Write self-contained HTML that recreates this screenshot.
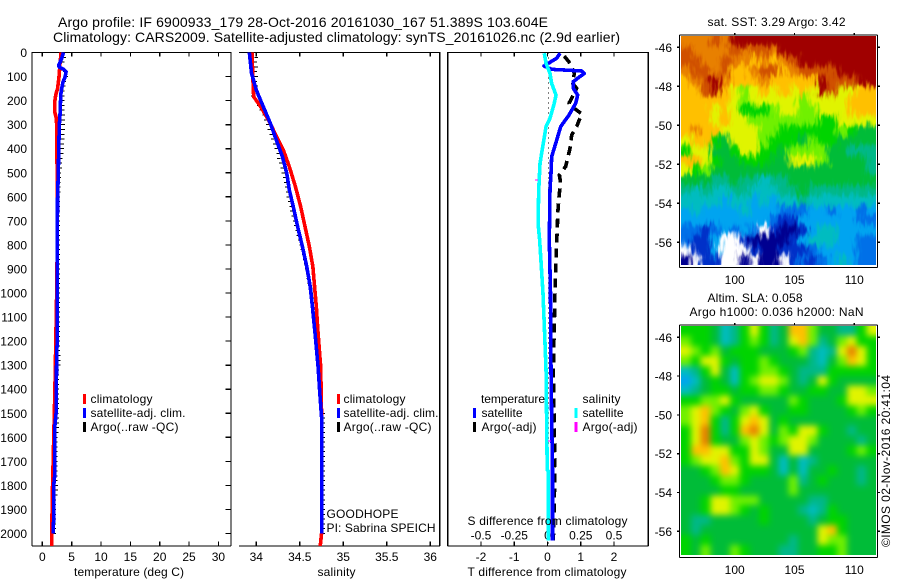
<!DOCTYPE html>
<html>
<head>
<meta charset="utf-8">
<title>Argo profile</title>
<style>
html,body{margin:0;padding:0;background:#fff;}
svg{display:block;font-family:"Liberation Sans",sans-serif;font-size:12px;fill:#000;}
text{fill:#000;}
.t14{font-size:14px;}
</style>
</head>
<body>
<svg id="chart" width="900" height="580" viewBox="0 0 900 580" xmlns="http://www.w3.org/2000/svg">
<defs>
<filter id="soft2" x="-5%" y="-5%" width="110%" height="110%" color-interpolation-filters="sRGB"><feGaussianBlur stdDeviation="3.2"/></filter>
<filter id="soft1" x="-5%" y="-5%" width="110%" height="110%" color-interpolation-filters="sRGB">
<feGaussianBlur stdDeviation="2" result="b"/>
<feTurbulence type="fractalNoise" baseFrequency="0.3 0.07" numOctaves="2" seed="3" result="n"/>
<feDisplacementMap in="b" in2="n" scale="14" xChannelSelector="R" yChannelSelector="G"/>
</filter>
<clipPath id="clip-sst"><rect x="681" y="36" width="195" height="229"/></clipPath>
<clipPath id="clip-sla"><rect x="681" y="326" width="195" height="229"/></clipPath>
</defs>
<rect width="900" height="580" fill="#fff"/>

<text class="t14" x="58" y="27" textLength="490" lengthAdjust="spacing">Argo profile: IF 6900933_179 28-Oct-2016 20161030_167 51.389S 103.604E</text>
<text class="t14" x="53" y="42" textLength="567" lengthAdjust="spacing">Climatology: CARS2009. Satellite-adjusted climatology: synTS_20161026.nc (2.9d earlier)</text>

<g id="temp-panel"></g>
<g id="sal-panel"></g>
<g id="diff-panel"></g>
<g id="sst-map"></g>
<g id="sla-map"></g>

<text x="74" y="576" textLength="110" lengthAdjust="spacing">temperature (deg C)</text>
<text x="317.5" y="576" textLength="38" lengthAdjust="spacing">salinity</text>
<text x="467.5" y="576" textLength="159" lengthAdjust="spacing">T difference from climatology</text>
<text x="467.5" y="525" textLength="160" lengthAdjust="spacing">S difference from climatology</text>

<g>
<rect x="83" y="394" width="3" height="10" fill="#f00"/>
<text x="90.5" y="403" textLength="62" lengthAdjust="spacing">climatology</text>
<rect x="83" y="408" width="3" height="10" fill="#00f"/>
<text x="90.5" y="417" textLength="95" lengthAdjust="spacing">satellite-adj. clim.</text>
<rect x="83" y="422" width="3" height="10" fill="#000"/>
<text x="90.5" y="431" textLength="88" lengthAdjust="spacing">Argo(..raw -QC)</text>
</g>
<g>
<rect x="337" y="394" width="3" height="10" fill="#f00"/>
<text x="343.5" y="403" textLength="62" lengthAdjust="spacing">climatology</text>
<rect x="337" y="408" width="3" height="10" fill="#00f"/>
<text x="343.5" y="417" textLength="95" lengthAdjust="spacing">satellite-adj. clim.</text>
<rect x="337" y="422" width="3" height="10" fill="#000"/>
<text x="343.5" y="431" textLength="88" lengthAdjust="spacing">Argo(..raw -QC)</text>
</g>
<text x="326.5" y="518" textLength="72" lengthAdjust="spacing">GOODHOPE</text>
<text x="326.5" y="532" textLength="109" lengthAdjust="spacing">PI: Sabrina SPEICH</text>

<g>
<text x="481" y="403" textLength="64" lengthAdjust="spacing">temperature</text>
<rect x="473" y="408" width="3" height="10" fill="#00f"/>
<text x="481.5" y="417" textLength="41" lengthAdjust="spacing">satellite</text>
<rect x="473" y="422" width="3" height="10" fill="#000"/>
<text x="481.5" y="431" textLength="55" lengthAdjust="spacing">Argo(-adj)</text>
<text x="582.5" y="403" textLength="38" lengthAdjust="spacing">salinity</text>
<rect x="574.5" y="408" width="3" height="10" fill="#0ff"/>
<text x="582.5" y="417" textLength="41" lengthAdjust="spacing">satellite</text>
<rect x="574.5" y="422" width="3" height="10" fill="#f0f"/>
<text x="582.5" y="431" textLength="55" lengthAdjust="spacing">Argo(-adj)</text>
</g>

<text x="707.5" y="26" textLength="138" lengthAdjust="spacing">sat. SST: 3.29 Argo: 3.42</text>
<text x="707.5" y="302" textLength="95" lengthAdjust="spacing">Altim. SLA: 0.058</text>
<text x="689.5" y="316" textLength="174" lengthAdjust="spacing">Argo h1000: 0.036 h2000: NaN</text>
<text transform="translate(890,547) rotate(-90)" x="0" y="0" textLength="172" lengthAdjust="spacing">©IMOS 02-Nov-2016 20:41:04</text>

<script>
// ---- tick labels ----
var depthTicks = [0,100,200,300,400,500,600,700,800,900,1000,1100,1200,1300,1400,1500,1600,1700,1800,1900,2000];
var tempTicks = [0,5,10,15,20,25,30];
var salTicks = ['34','34.5','35','35.5','36'];
var tDiffTicks = ['-2','-1','0','1','2'];
var sDiffTicks = ['-0.5','-0.25','0','0.25','0.5'];
var lonTicks = [100,105,110];
var latTicks = [-46,-48,-50,-52,-54,-56];

// ---- temperature profiles ----
var climTempDepth = [0,50,100,150,175,200,250,270,300,400,500,600,800,1000,1200,1400,1600,1800,2000,2052];
var climTemp = [3.2,3.0,2.85,2.6,2.3,2.15,2.15,2.35,2.45,2.45,2.55,2.55,2.55,2.45,2.3,2.15,1.95,1.75,1.6,1.6];
var satTempDepth = [0,25,50,60,70,80,100,125,150,175,270,300,400,500,600,800,1000,1200,1250,1500,1550,1750,1800,1950,1960,2000];
var satTemp = [3.6,3.3,2.85,2.85,3.6,4.05,3.9,3.5,3.3,3.15,3.0,2.9,2.8,2.73,2.6,2.55,2.55,2.55,2.45,2.35,2.15,2.15,1.95,1.95,1.85,1.85];

// ---- salinity profiles ----
var climSalDepth = [0,156,184,225,281,336,405,475,558,641,724,807,890,974,1057,1167,1306,1500,2000,2052];
var climSal = [33.95,33.966,33.97,34.05,34.14,34.215,34.31,34.38,34.45,34.51,34.56,34.61,34.65,34.67,34.69,34.71,34.74,34.75,34.75,34.735];
var satSalDepth = [0,86,156,225,293,364,433,502,572,641,724,807,890,974,1057,1167,1306,1417,1515,2000];
var satSal = [33.92,33.945,34.0,34.08,34.16,34.23,34.30,34.35,34.38,34.425,34.475,34.53,34.58,34.62,34.645,34.675,34.71,34.73,34.75,34.75];

// ---- Argo levels ----
var argoDepth = [0,20,40,60,80,100,120,140,160,180,200,220,240,260,280,300,320,340,360,380,400,420,440,460,480,500,520,540,560,580,600,620,640,660,680,700,720,740,760,780,800,820,840,860,880,900,920,940,960,980,1000,1020,1040,1060,1080,1100,1120,1140,1160,1180,1200,1220,1240,1260,1280,1300,1320,1340,1360,1380,1400,1420,1440,1460,1480,1500,1520,1540,1560,1580,1600,1620,1640,1660,1680,1700,1720,1740,1760,1780,1800,1820,1840,1860,1880,1900,1920,1940,1960,1980,2000];
var argoTemp = [3.8,3.7,3.4,3.1,3.9,4.0,3.7,3.6,3.4,3.4,3.4,3.4,3.4,3.5,3.5,3.45,3.45,3.4,3.4,3.3,3.3,3.2,3.1,3.0,3.0,2.8,2.8,2.75,2.75,2.7,2.6,2.6,2.6,2.6,2.6,2.6,2.6,2.6,2.6,2.6,2.6,2.6,2.6,2.6,2.6,2.6,2.6,2.6,2.6,2.6,2.6,2.6,2.6,2.6,2.6,2.6,2.6,2.6,2.6,2.6,2.6,2.6,2.6,2.75,2.75,2.75,2.5,2.5,2.5,2.5,2.45,2.45,2.45,2.45,2.45,2.4,2.45,2.5,2.45,2.4,2.2,2.2,2.2,2.2,2.2,2.2,2.2,2.2,2.2,2.2,2.3,2.3,2.25,2.0,2.0,2.0,2.0,2.0,1.95,1.95,1.95];
var argoSal = [34.0,34.0,33.99,34.0,33.99,34.0,33.99,34.0,33.97,33.96,34.0,34.03,34.06,34.09,34.11,34.13,34.15,34.17,34.19,34.21,34.23,34.25,34.26,34.28,34.30,34.31,34.33,34.34,34.35,34.36,34.37,34.385,34.40,34.41,34.425,34.44,34.455,34.47,34.485,34.50,34.52,34.53,34.545,34.56,34.57,34.58,34.59,34.60,34.61,34.625,34.63,34.64,34.645,34.65,34.655,34.66,34.665,34.67,34.675,34.68,34.685,34.69,34.695,34.70,34.705,34.71,34.715,34.72,34.72,34.725,34.73,34.73,34.735,34.74,34.74,34.77,34.77,34.77,34.77,34.77,34.77,34.77,34.77,34.77,34.77,34.77,34.77,34.77,34.77,34.77,34.77,34.77,34.77,34.77,34.77,34.77,34.77,34.77,34.77,34.77,34.77];

// ---- difference profiles ----
var satDiffTDepth = [3,24,45,56,70,73,77,87,100,121,149,177,211,260,308,364,433,502,572,780,1000,1320,1528,1736,2030];
var satDiffT = [0.376,0.276,0.025,-0.105,0.126,0.526,1.03,1.107,0.977,0.777,0.777,0.908,0.848,0.647,0.397,0.277,0.126,0.105,0.075,0.054,0.09,0.105,0.126,0.15,0.15];
var satDiffSDepth = [3,45,87,128,177,211,273,308,392,460,572,710,780,1000,1150,1320,1736,1740,2030];
var satDiffS = [-0.024,-0.011,0.019,0.031,0.064,0.051,0.019,-0.011,-0.036,-0.056,-0.066,-0.071,-0.059,-0.034,-0.023,-0.011,-0.002,0.006,0.006];
var argoDiffTDepth = [15,45,87,128,149,211,225,255,273,308,343,398,474,509,544,586,669,738,780,1000,1320,1500,1736,2030];
var argoDiffT = [0.505,0.677,0.806,0.757,0.878,0.647,0.727,1.03,0.977,0.878,0.727,0.677,0.547,0.355,0.397,0.355,0.307,0.295,0.277,0.225,0.175,0.195,0.225,0.175];
var argoDiffSDepth = [530,1615];
var argoDiffS = [-0.082,0.014];

// ---- map colour levels (index into mapPalette, -1 = no data) ----
var mapPalette = ['#000090','#0030c8','#0070e8','#00a4f0','#00bcc0','#00b888','#00bc38','#00d400','#70f000','#e0f400','#ffc000','#e88000','#d05000','#a00000'];
var sstRows = [
[11,11,11,12,11,13,13,13,13,13,13,13,13,13,13,13,13,13,13,13],
[12,11,11,11,11,12,11,12,12,11,13,13,13,13,13,13,13,13,13,13],
[12,12,11,11,12,11,11,10,11,10,11,12,13,13,13,13,13,13,13,13],
[11,12,12,11,12,10,10,11,12,12,10,11,12,12,12,12,13,13,13,13],
[10,11,12,13,11,10,10,10,11,10,10,10,10,10,13,12,12,12,13,13],
[10,10,12,13,10,9,8,9,10,9,10,9,10,9,13,12,9,9,10,10],
[10,10,10,10,10,9,8,9,9,9,9,9,8,9,9,9,9,10,10,10],
[10,10,10,9,10,9,7,7,7,8,9,9,8,8,9,9,9,10,10,10],
[10,10,10,9,10,9,9,8,8,8,8,8,8,8,7,7,9,9,9,9],
[10,11,10,10,9,9,9,9,8,8,7,7,7,7,7,7,8,7,6,6],
[9,10,10,7,6,9,9,9,8,7,7,7,6,8,7,7,6,6,6,6],
[7,9,9,6,6,7,9,9,7,7,6,8,8,8,8,6,6,5,5,5],
[10,10,9,7,6,6,7,7,7,6,6,9,9,9,8,6,6,6,6,5],
[9,7,8,6,6,6,6,6,6,6,6,6,6,6,6,6,6,6,6,5],
[6,6,6,5,5,6,5,5,4,5,5,6,6,6,6,6,6,6,6,6],
[5,4,5,4,4,5,5,4,4,4,5,5,6,5,5,5,5,5,5,5],
[4,4,4,4,3,4,4,3,4,3,4,4,5,4,4,4,4,4,4,4],
[3,4,3,3,3,3,4,3,3,3,2,2,2,3,3,2,3,3,2,3],
[3,3,3,3,3,3,3,3,3,2,1,1,3,3,3,3,3,3,2,2],
[2,2,1,2,3,2,3,2,-1,1,0,0,1,3,4,4,3,3,3,3],
[2,1,1,3,-1,-1,1,0,0,0,0,1,3,4,4,4,3,3,2,2],
[-1,1,1,3,-1,-1,-1,1,0,0,1,1,1,2,3,3,3,3,2,2],
[0,-1,1,1,-1,-1,0,-1,0,0,-1,1,2,1,2,3,4,3,2,2]
];
var slaRows = [
[7,7,7,6,4,5,7,9,7,5,6,10,10,8,6,6,5,5,7,9],
[8,7,7,6,4,5,7,8,7,5,6,9,10,8,5,6,8,9,7,7],
[9,8,7,8,6,7,7,7,6,6,6,7,8,5,4,5,9,11,9,7],
[8,7,9,9,7,6,7,7,8,7,6,6,6,5,4,6,8,10,9,7],
[4,5,7,9,6,4,7,7,8,8,7,6,5,5,5,7,7,7,7,7],
[3,4,6,7,6,4,7,8,9,9,8,6,5,6,9,7,6,6,6,6],
[4,5,6,7,7,6,7,7,8,8,7,6,6,7,7,6,6,9,9,8],
[7,7,8,8,9,7,6,6,6,6,6,8,7,6,6,6,7,9,9,9],
[8,9,10,8,7,6,8,9,7,6,6,7,7,6,6,6,6,7,8,7],
[8,9,10,7,5,7,9,10,9,6,7,6,6,6,6,6,6,6,6,6],
[7,9,11,7,5,7,10,11,9,6,8,7,9,9,7,6,6,5,6,6],
[7,9,11,7,6,6,8,9,8,7,8,9,9,8,6,6,6,6,5,6],
[7,10,10,9,9,7,7,9,8,6,6,9,9,6,6,6,6,7,8,7],
[7,8,9,9,10,8,7,9,9,6,4,6,4,5,6,6,6,6,6,6],
[6,6,7,8,10,9,7,7,7,6,4,6,4,6,6,7,6,6,5,6],
[6,6,6,7,8,8,7,6,6,6,6,8,5,6,7,6,6,6,5,6],
[6,6,6,6,7,7,6,6,6,6,6,8,6,6,6,6,6,6,6,6],
[6,6,7,9,9,8,8,8,6,6,6,6,6,5,5,6,6,6,6,6],
[6,6,7,9,9,8,7,6,7,6,6,6,5,4,5,7,6,6,6,6],
[6,5,5,6,6,6,6,6,7,6,6,6,6,5,6,7,7,6,6,6],
[6,5,6,6,6,6,6,6,6,6,6,6,6,6,9,10,7,6,6,6],
[7,6,7,6,6,6,6,6,6,6,6,5,6,6,9,8,8,6,6,6],
[7,6,8,6,6,8,7,6,6,6,5,5,6,6,7,7,8,6,6,6]
];

// ---- axis functions ----
var SVGNS = 'http://www.w3.org/2000/svg';
function yDepth(d){ return 52.5 + d * 0.2405; }
function xTemp(t){ return 42.3 + t * 5.87; }
function xSal(s){ return 256.3 + (s - 34) * 87; }
function xDiffT(t){ return 547.5 + t * 33.25; }
function xDiffS(s){ return 547.5 + s * 133; }
function xLon(l){ return 734.7 + (l - 100) * 11.96; }
function ySstLat(l){ return 47.3 + (-46 - l) * 19.5; }
function ySlaLat(l){ return 337.3 + (-46 - l) * 19.4; }

function mk(parent, tag, attrs, txt){
  var el = document.createElementNS(SVGNS, tag);
  for (var k in attrs) el.setAttribute(k, attrs[k]);
  if (txt !== undefined) el.textContent = txt;
  parent.appendChild(el);
  return el;
}
function seg(parent, x1, y1, x2, y2, name){
  var el = mk(parent, 'line', {x1:x1, y1:y1, x2:x2, y2:y2, stroke:'#000', 'stroke-width':1.2, 'shape-rendering':'crispEdges'});
  
  
  return el;
}
function label(parent, x, y, s, anchor, name){
  var el = mk(parent, 'text', {x:x, y:y, 'text-anchor':anchor}, s);
  
  
  return el;
}
function profile(parent, xf, vals, depths, color, width, dash, name){
  var pts = [];
  for (var i = 0; i < vals.length; i++) pts.push(xf(vals[i]).toFixed(2) + ',' + yDepth(depths[i]).toFixed(2));
  var attrs = {points:pts.join(' '), fill:'none', stroke:color, 'stroke-width':width, 'stroke-linejoin':'round', 'shape-rendering':'crispEdges'};
  if (dash) attrs['stroke-dasharray'] = dash;
  var el = mk(parent, 'polyline', attrs);
  
  
  return el;
}
function argoDashes(parent, xf, vals, depths, half, color, name){
  for (var i = 0; i < vals.length; i++){
    var el = mk(parent, 'line', {x1:xf(vals[i]) - half, x2:xf(vals[i]) + half, y1:yDepth(depths[i]), y2:yDepth(depths[i]), stroke:color, 'stroke-width':1, 'shape-rendering':'crispEdges'});
    
    
  }
}

// ---- temperature panel ----
var tp = document.getElementById('temp-panel');
seg(tp, 32, 52.5, 231, 52.5, 'top-axis-line');
seg(tp, 32, 546, 231, 546, 'bottom-axis-line');
seg(tp, 32, 52, 32, 546, 'depth-axis-line');
seg(tp, 231, 52, 231, 546, 'right-axis-line');
depthTicks.forEach(function(d){
  seg(tp, 225.5, yDepth(d), 231, yDepth(d), 'depth-tick');
  label(tp, 27, yDepth(d) + 4.5, String(d), 'end', 'depth-tick-label');
});
tempTicks.forEach(function(t){
  seg(tp, xTemp(t), 52.5, xTemp(t), 56.5, 'temperature-top-tick');
  seg(tp, xTemp(t), 541.5, xTemp(t), 546, 'temperature-bottom-tick');
  label(tp, xTemp(t), 561, String(t), 'middle', 'temperature-tick-label');
});
argoDashes(tp, xTemp, argoTemp, argoDepth, 2.2, '#000', 'argo-temperature-level');
profile(tp, xTemp, climTemp, climTempDepth, '#f00', 3.6, null, 'climatology-temperature-line');
profile(tp, xTemp, satTemp, satTempDepth, '#00f', 3.6, null, 'satellite-temperature-line');

// ---- salinity panel ----
var sp = document.getElementById('sal-panel');
seg(sp, 239, 52.5, 440, 52.5, 'top-axis-line');
seg(sp, 239, 546, 440, 546, 'bottom-axis-line');
seg(sp, 439.7, 52, 439.7, 546, 'right-axis-line');
salTicks.forEach(function(s){
  var v = parseFloat(s);
  seg(sp, xSal(v), 52.5, xSal(v), 56.5, 'salinity-top-tick');
  seg(sp, xSal(v), 541.5, xSal(v), 546, 'salinity-bottom-tick');
  label(sp, xSal(v), 561, s, 'middle', 'salinity-tick-label');
});
argoDashes(sp, xSal, argoSal, argoDepth, 1.8, '#000', 'argo-salinity-level');
profile(sp, xSal, climSal, climSalDepth, '#f00', 3.6, null, 'climatology-salinity-line');
profile(sp, xSal, satSal, satSalDepth, '#00f', 3.6, null, 'satellite-salinity-line');

// ---- difference panel ----
var dp = document.getElementById('diff-panel');
seg(dp, 447.7, 52.5, 648.3, 52.5, 'top-axis-line');
seg(dp, 447.7, 546, 648.3, 546, 'bottom-axis-line');
seg(dp, 447.7, 52, 447.7, 546, 'left-axis-line');
seg(dp, 648.3, 52, 648.3, 546, 'right-axis-line');
tDiffTicks.forEach(function(s){
  var v = parseFloat(s);
  seg(dp, xDiffT(v), 52.5, xDiffT(v), 56.5, 'difference-top-tick');
  seg(dp, xDiffT(v), 541.5, xDiffT(v), 546, 'difference-bottom-tick');
  label(dp, xDiffT(v), 561, s, 'middle', 't-difference-tick-label');
});
sDiffTicks.forEach(function(s){
  label(dp, xDiffS(parseFloat(s)), 539.5, s, 'middle', 's-difference-tick-label');
});
var zeroLine = mk(dp, 'line', {x1:xDiffT(0) + 1, x2:xDiffT(0) + 1, y1:52.5, y2:546, stroke:'#000', 'stroke-width':1, 'stroke-dasharray':'1 4', 'shape-rendering':'crispEdges'});


profile(dp, xDiffT, argoDiffT, argoDiffTDepth, '#000', 3.6, '9 6', 'argo-temperature-difference-line');
profile(dp, xDiffT, satDiffT, satDiffTDepth, '#00f', 3.6, null, 'satellite-temperature-difference-line');
profile(dp, xDiffS, satDiffS, satDiffSDepth, '#0ff', 3.6, null, 'satellite-salinity-difference-line');
argoDashes(dp, xDiffS, argoDiffS, argoDiffSDepth, 1.5, '#f0f', 'argo-salinity-difference-mark');

// ---- maps ----
function drawMap(rootId, rows, top, yf, clipId, filterId, backfill, bottomLabel){
  var g = document.getElementById(rootId);
  var outer = mk(g, 'g', {'clip-path':'url(#' + clipId + ')'});
  
  
  var inner = mk(outer, 'g', {filter:'url(#' + filterId + ')'});
  var back = mk(inner, 'rect', {x:670, y:top - 10, width:220, height:250, fill:backfill});
  
  
  var cw = 195 / rows[0].length, ch = 229 / rows.length;
  rows.forEach(function(row, r){
    row.forEach(function(v, c){
      var rowPad = (r === 0 ? 10 : 0), colPad = (c === 0 ? 10 : 0);
      var cell = mk(inner, 'rect', {
        x:681 + c * cw - colPad,
        y:top + r * ch - rowPad,
        width:cw + 0.4 + colPad + (c === row.length - 1 ? 10 : 0),
        height:ch + 0.4 + rowPad + (r === rows.length - 1 ? 10 : 0),
        fill:(v < 0 ? '#fff' : mapPalette[v]),
        'shape-rendering':'crispEdges'
      });
      
      
    });
  });
  var frameTop = top - 1, frameBottom = top + 231.5;
  seg(g, 679.5, frameTop, 877.5, frameTop, 'map-top-axis');
  seg(g, 679.5, frameBottom, 877.5, frameBottom, 'map-bottom-axis');
  seg(g, 679.5, frameTop, 679.5, frameBottom, 'map-left-axis');
  seg(g, 877.5, frameTop, 877.5, frameBottom, 'map-right-axis');
  lonTicks.forEach(function(l){
    seg(g, xLon(l), frameTop - 2, xLon(l), frameTop, 'longitude-top-tick');
    label(g, xLon(l), bottomLabel, String(l), 'middle', 'longitude-tick-label');
  });
  latTicks.forEach(function(l){
    seg(g, 677, yf(l), 679.5, yf(l), 'latitude-tick');
    seg(g, 877.5, yf(l), 880, yf(l), 'latitude-right-tick');
    label(g, 672, yf(l) + 4.5, String(l), 'end', 'latitude-tick-label');
  });
}
drawMap('sst-map', sstRows, 36, ySstLat, 'clip-sst', 'soft1', '#00bc38', 284);
drawMap('sla-map', slaRows, 326, ySlaLat, 'clip-sla', 'soft2', '#00c040', 574);
</script>
</svg>
</body>
</html>
